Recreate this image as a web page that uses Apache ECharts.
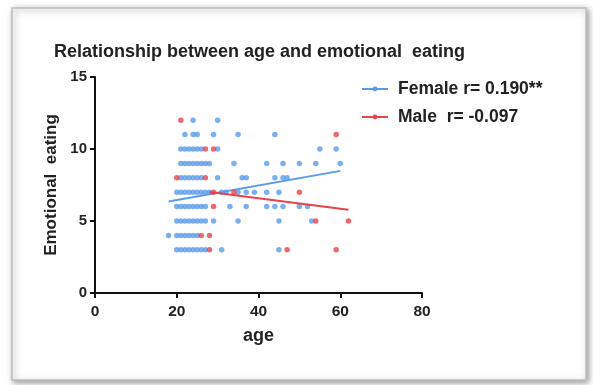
<!DOCTYPE html>
<html>
<head>
<meta charset="utf-8">
<script src="https://cdn.jsdelivr.net/npm/echarts@6/dist/echarts.min.js"></script>
<style>
  html, body { margin: 0; padding: 0; background: #ffffff; }
  #chart { width: 593px; height: 385px; }
</style>
</head>
<body>
<div id="chart"></div>
<script>
// Emotional eating score vs. age, split by sex
const titleText = 'Relationship between age and emotional  eating';
const xName = 'age';
const yName = 'Emotional  eating';
const femaleName = 'Female r= 0.190**';
const maleName = 'Male  r= -0.097';

const xTicks = [0, 20, 40, 60, 80];
const yTicks = [0, 5, 10, 15];

// [age, score]
const femalePoints = [
  [24, 12], [30, 12],
  [22, 11], [24, 11], [25, 11], [29, 11], [35, 11], [44, 11],
  [21, 10], [22, 10], [23, 10], [24, 10], [25, 10], [26, 10], [30, 10], [55, 10], [59, 10],
  [21, 9], [22, 9], [23, 9], [24, 9], [25, 9], [26, 9], [27, 9], [28, 9], [34, 9], [42, 9], [46, 9], [50, 9], [54, 9], [60, 9],
  [21, 8], [22, 8], [23, 8], [24, 8], [25, 8], [26, 8], [30, 8], [36, 8], [37, 8], [44, 8], [46, 8], [47, 8],
  [20, 7], [21, 7], [22, 7], [23, 7], [24, 7], [25, 7], [26, 7], [27, 7], [28, 7], [31, 7], [32, 7], [35, 7], [37, 7], [39, 7], [42, 7], [45, 7],
  [20, 6], [21, 6], [22, 6], [23, 6], [24, 6], [25, 6], [26, 6], [27, 6], [33, 6], [37, 6], [42, 6], [44, 6], [46, 6], [50, 6], [52, 6],
  [20, 5], [21, 5], [22, 5], [23, 5], [24, 5], [25, 5], [26, 5], [27, 5], [29, 5], [35, 5], [45, 5], [53, 5],
  [18, 4], [20, 4], [21, 4], [22, 4], [23, 4], [24, 4], [25, 4],
  [20, 3], [21, 3], [22, 3], [23, 3], [24, 3], [25, 3], [26, 3], [27, 3], [31, 3], [45, 3]
];

const malePoints = [
  [21, 12],
  [59, 11],
  [27, 10], [29, 10],
  [20, 8], [27, 8],
  [29, 7], [34, 7], [50, 7],
  [29, 6],
  [54, 5], [62, 5],
  [26, 4], [28, 4],
  [28, 3], [47, 3], [59, 3]
];

// Fitted regression lines (end points)
const femaleFit = [[18, 6.35], [60, 8.48]];
const maleFit = [[28, 7.02], [62, 5.78]];

const blue = '#5b9be8';
const red = '#e8424c';
const ink = '#222222';
const font = '"Liberation Sans", Arial, sans-serif';

const chart = echarts.init(document.getElementById('chart'), null, { renderer: 'canvas' });

chart.setOption({
  animation: false,
  backgroundColor: '#ffffff',
  graphic: [{
    type: 'rect',
    z: -10,
    shape: { x: 12, y: 8, width: 574, height: 372 },
    style: {
      fill: '#ffffff',
      stroke: '#bdbdbd',
      lineWidth: 1.5,
      shadowBlur: 6,
      shadowOffsetX: 2,
      shadowOffsetY: 2,
      shadowColor: 'rgba(0,0,0,0.4)'
    }
  }],
  title: {
    text: titleText,
    left: 49,
    top: 38,
    textStyle: { fontFamily: font, fontSize: 18, fontWeight: 'bold', color: ink }
  },
  legend: {
    left: 356,
    top: 75,
    orient: 'vertical',
    itemGap: 10,
    itemWidth: 26,
    itemHeight: 6,
    data: [femaleName, maleName],
    textStyle: { fontFamily: font, fontSize: 17.5, fontWeight: 'bold', color: ink, padding: [0, 0, 0, 5] }
  },
  grid: { left: 95, right: 171, top: 77, bottom: 92 },
  xAxis: {
    type: 'value',
    min: xTicks[0],
    max: xTicks[xTicks.length - 1],
    interval: xTicks[1] - xTicks[0],
    name: xName,
    nameLocation: 'middle',
    nameGap: 34,
    nameTextStyle: { fontFamily: font, fontSize: 18, fontWeight: 'bold', color: ink },
    splitLine: { show: false },
    axisLine: { lineStyle: { color: '#111', width: 2 } },
    axisTick: { lineStyle: { color: '#111', width: 2 }, length: 5 },
    axisLabel: { fontFamily: font, fontSize: 15.5, fontWeight: 'bold', color: ink, margin: 11 }
  },
  yAxis: {
    type: 'value',
    min: yTicks[0],
    max: yTicks[yTicks.length - 1],
    interval: yTicks[1] - yTicks[0],
    name: yName,
    nameLocation: 'middle',
    nameGap: 31,
    nameTextStyle: { fontFamily: font, fontSize: 17, fontWeight: 'bold', color: ink },
    splitLine: { show: false },
    axisLine: { show: true, lineStyle: { color: '#111', width: 2 } },
    axisTick: { show: true, lineStyle: { color: '#111', width: 2 }, length: 5 },
    axisLabel: { fontFamily: font, fontSize: 15, fontWeight: 'bold', color: ink, margin: 8 }
  },
  series: [
    {
      name: femaleName,
      type: 'line',
      data: femaleFit,
      symbol: 'circle',
      symbolSize: 4,
      showSymbol: false,
      lineStyle: { color: blue, width: 2 },
      itemStyle: { color: blue },
      z: 3
    },
    {
      name: maleName,
      type: 'line',
      data: maleFit,
      symbol: 'circle',
      symbolSize: 4,
      showSymbol: false,
      lineStyle: { color: red, width: 2 },
      itemStyle: { color: red },
      z: 3
    },
    {
      name: femaleName,
      type: 'scatter',
      data: femalePoints,
      symbolSize: 5.5,
      itemStyle: { color: blue },
      z: 2
    },
    {
      name: maleName,
      type: 'scatter',
      data: malePoints,
      symbolSize: 5.5,
      itemStyle: { color: red },
      z: 4
    }
  ]
});
</script>
</body>
</html>
